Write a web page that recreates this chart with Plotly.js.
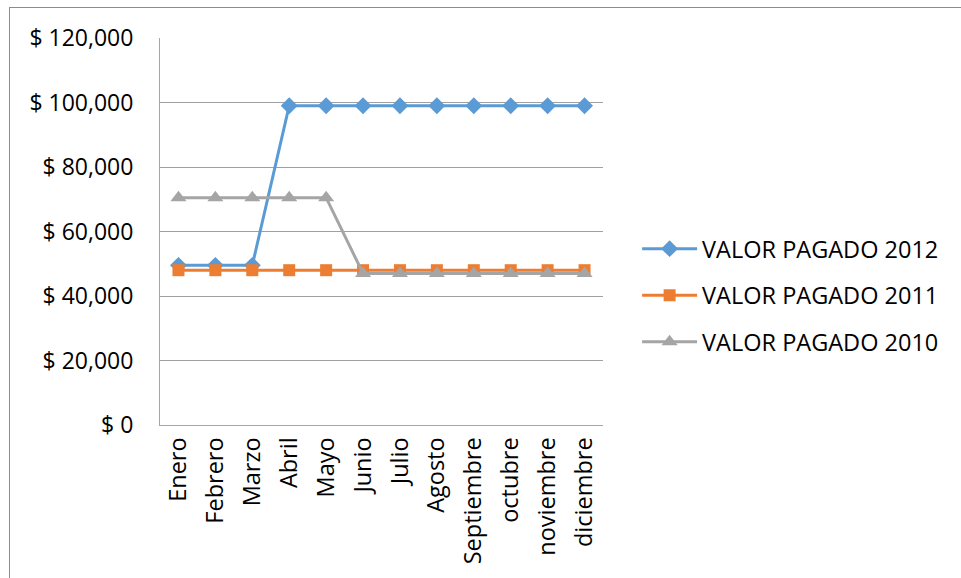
<!DOCTYPE html>
<html>
<head>
<meta charset="utf-8">
<script src="https://cdn.plot.ly/plotly-3.0.1.min.js"></script>
<style>
html,body{margin:0;padding:0;background:#fff;}
#frame{position:absolute;left:9px;top:7px;width:952px;height:571px;border-top:1px solid #8c8c8c;border-left:1px solid #8c8c8c;}
#chart{width:952px;height:571px;}
</style>
</head>
<body>
<div id="frame"><div id="chart"></div></div>
<script>
const months = ["Enero","Febrero","Marzo","Abril","Mayo","Junio","Julio","Agosto","Septiembre","octubre","noviembre","diciembre"];
const seriesNames = ["VALOR PAGADO 2012","VALOR PAGADO 2011","VALOR PAGADO 2010"];
const pagado2012 = [49500,49500,49500,99000,99000,99000,99000,99000,99000,99000,99000,99000];
const pagado2011 = [48000,48000,48000,48000,48000,48000,48000,48000,48000,48000,48000,48000];
const pagado2010 = [70500,70500,70500,70500,70500,47000,47000,47000,47000,47000,47000,47000];
const yTicks = [0,20000,40000,60000,80000,100000,120000];
const yTickText = yTicks.map(v => "$ " + v.toLocaleString("en-US"));

const FONT = "'Open Sans', sans-serif";

const traces = [
  {x: months, y: pagado2012, name: seriesNames[0], legendgroup:"a", mode:"lines+markers",
   line:{color:"#5B9BD5", width:3}, marker:{symbol:"diamond", size:13, color:"#5B9BD5"}},
  {x: months, y: pagado2011, name: seriesNames[1], legendgroup:"b", mode:"lines+markers",
   line:{color:"#ED7D31", width:3}, marker:{symbol:"square", size:12, color:"#ED7D31"}},
  {x: months, y: pagado2010, name: seriesNames[2], legendgroup:"c", mode:"lines+markers",
   line:{color:"#A5A5A5", width:3}, marker:{symbol:"triangle-up", size:14, color:"#A5A5A5"}}
];

const layout = {
  width: 952, height: 571,
  margin: {l:150, t:30, r:359, b:154, pad:0},
  paper_bgcolor:"#ffffff", plot_bgcolor:"#ffffff",
  font: {family: FONT, size: 23, color:"#000000"},
  showlegend: true,
  legend: {x:1.077, y:0.512, xanchor:"left", yanchor:"top", font:{family:FONT, size:23.5, color:"#000"},
           tracegroupgap: 13, itemwidth: 55, bgcolor:"rgba(0,0,0,0)"},
  xaxis: {type:"category", categoryorder:"array", categoryarray: months,
          range:[-0.5, 11.5], tickangle:-90, showgrid:false, zeroline:false,
          showline:true, linecolor:"#a6a6a6", linewidth:1, ticks:"", ticklabelstandoff:2,
          tickfont:{family:FONT, size:23.5, color:"#000"}},
  yaxis: {range:[0,120000], tickmode:"array", tickvals: yTicks, ticktext: yTickText,
          showgrid:true, gridcolor:"#a0a0a0", gridwidth:1, zeroline:false,
          showline:true, linecolor:"#a6a6a6", linewidth:1, ticks:"", ticklabelstandoff:21,
          tickfont:{family:FONT, size:23, color:"#000"}}
};

Plotly.newPlot("chart", traces, layout, {displayModeBar:false, staticPlot:true});
</script>
</body>
</html>
